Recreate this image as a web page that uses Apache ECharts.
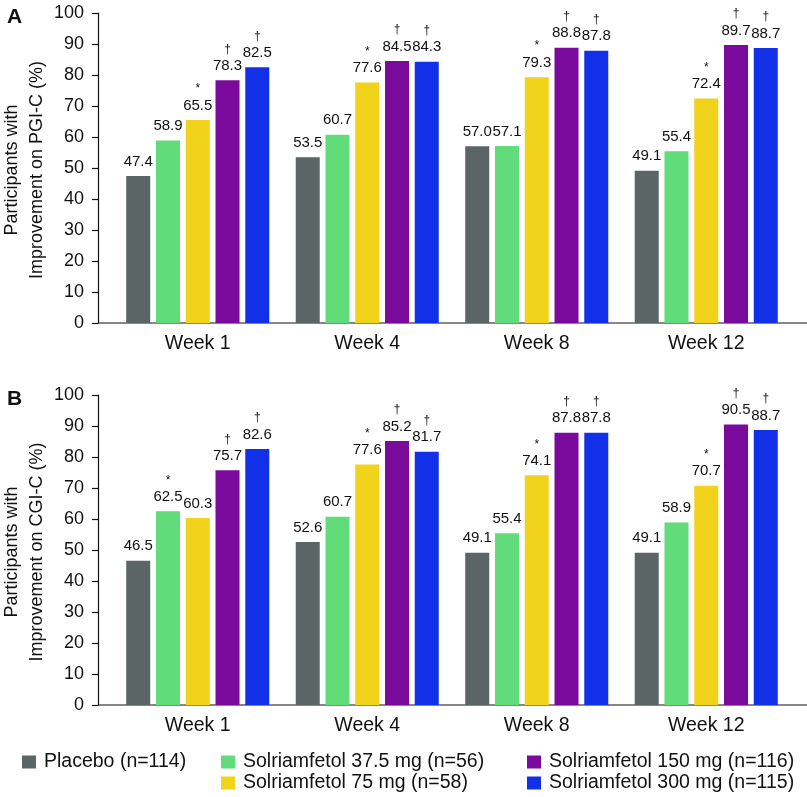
<!DOCTYPE html>
<html>
<head>
<meta charset="utf-8">
<script src="https://cdn.jsdelivr.net/npm/echarts@6/dist/echarts.min.js"></script>
<style>
html,body{margin:0;padding:0;background:#fff;}
#chart{width:807px;height:797px;}
</style>
</head>
<body>
<div id="chart"></div>
<script>
// ---- Data ----
const categories = ['Week 1', 'Week 4', 'Week 8', 'Week 12'];
const seriesNames = [
  'Placebo (n=114)',
  'Solriamfetol 37.5 mg (n=56)',
  'Solriamfetol 75 mg (n=58)',
  'Solriamfetol 150 mg (n=116)',
  'Solriamfetol 300 mg (n=115)'
];
const colors = ['#5b6566', '#62dc7a', '#f2d31c', '#7a0a9c', '#1230e8'];

// Panel A: PGI-C
const pgicPlacebo = [47.4, 53.5, 57.0, 49.1];
const pgic37 = [58.9, 60.7, 57.1, 55.4];
const pgic75 = [65.5, 77.6, 79.3, 72.4];
const pgic150 = [78.3, 84.5, 88.8, 89.7];
const pgic300 = [82.5, 84.3, 87.8, 88.7];
const pgicMarkPlacebo = ['', '', '', ''];
const pgicMark37 = ['', '', '', ''];
const pgicMark75 = ['*', '*', '*', '*'];
const pgicMark150 = ['†', '†', '†', '†'];
const pgicMark300 = ['†', '†', '†', '†'];

// Panel B: CGI-C
const cgicPlacebo = [46.5, 52.6, 49.1, 49.1];
const cgic37 = [62.5, 60.7, 55.4, 58.9];
const cgic75 = [60.3, 77.6, 74.1, 70.7];
const cgic150 = [75.7, 85.2, 87.8, 90.5];
const cgic300 = [82.6, 81.7, 87.8, 88.7];
const cgicMarkPlacebo = ['', '', '', ''];
const cgicMark37 = ['*', '', '', ''];
const cgicMark75 = ['', '*', '*', '*'];
const cgicMark150 = ['†', '†', '†', '†'];
const cgicMark300 = ['†', '†', '†', '†'];

const yTitleA = ['Participants with', 'Improvement on PGI-C (%)'];
const yTitleB = ['Participants with', 'Improvement on CGI-C (%)'];

// ---- Chart ----
const FONT = '"Liberation Sans", Arial, Helvetica, sans-serif';

function makeSeries(values, marks, idx, axisIdx) {
  return {
    type: 'bar',
    name: seriesNames[idx],
    xAxisIndex: axisIdx,
    yAxisIndex: axisIdx,
    data: values,
    barWidth: 24,
    barGap: '24%',
    itemStyle: { color: colors[idx] },
    label: {
      show: true,
      position: 'top',
      distance: 6,
      fontFamily: FONT,
      formatter: function (p) {
        const m = marks[p.dataIndex];
        const v = Number(p.value).toFixed(1);
        return m ? '{m|' + m + '}\n{v|' + v + '}' : '{v|' + v + '}';
      },
      rich: {
        v: { fontSize: 15, lineHeight: 17, color: '#111', fontFamily: FONT },
        m: { fontSize: 12, lineHeight: 16, color: '#111', fontFamily: FONT }
      }
    }
  };
}

const gridA = { left: 113, right: 16, top: 13, height: 310 };
const gridB = { left: 113, right: 16, top: 395, height: 310 };

function xAxisFor(i) {
  return {
    type: 'category',
    gridIndex: i,
    data: categories,
    axisLine: { show: false },
    axisTick: { show: false },
    axisLabel: { color: '#111', fontSize: 19.5, fontFamily: FONT, margin: 11 }
  };
}
function yAxisFor(i) {
  return {
    type: 'value',
    gridIndex: i,
    min: 0, max: 100, interval: 10,
    offset: 15,
    axisLine: { show: true, lineStyle: { color: '#111', width: 1.2 } },
    axisTick: { show: true, length: 6, inside: false, lineStyle: { color: '#111', width: 1.2 } },
    axisLabel: { color: '#111', fontSize: 18, fontFamily: FONT, margin: 14 },
    splitLine: { show: false }
  };
}

function yTitle(lines, cy) {
  return lines.map((t, k) => ({
    type: 'text',
    x: k === 0 ? 12 : 37,
    y: cy,
    rotation: Math.PI / 2,
    style: { text: t, fontSize: 18, fontFamily: FONT, fill: '#111', textAlign: 'center', textVerticalAlign: 'middle' }
  }));
}

const legendCommon = {
  orient: 'vertical',
  padding: 0,
  itemGap: 1,
  itemWidth: 14,
  itemHeight: 13,
  icon: 'rect',
  selectedMode: false,
  textStyle: { fontSize: 19.5, fontFamily: FONT, color: '#111', padding: [0, 0, 0, 3] }
};

const option = {
  animation: false,
  backgroundColor: '#fff',
  grid: [gridA, gridB],
  xAxis: [xAxisFor(0), xAxisFor(1)],
  yAxis: [yAxisFor(0), yAxisFor(1)],
  legend: [
    Object.assign({}, legendCommon, { data: [seriesNames[0]], left: 22, top: 752 }),
    Object.assign({}, legendCommon, { data: [seriesNames[1], seriesNames[2]], left: 221, top: 752 }),
    Object.assign({}, legendCommon, { data: [seriesNames[3], seriesNames[4]], left: 527, top: 752 })
  ],
  graphic: [
    { type: 'text', left: 7, top: 7, style: { text: 'A', fontSize: 21, fontWeight: 'bold', fontFamily: FONT, fill: '#111' } },
    { type: 'text', left: 7, top: 389, style: { text: 'B', fontSize: 21, fontWeight: 'bold', fontFamily: FONT, fill: '#111' } },
    { type: 'line', shape: { x1: 98, y1: 323, x2: 807, y2: 323 }, style: { stroke: '#111', lineWidth: 1.2 } },
    { type: 'line', shape: { x1: 98, y1: 705, x2: 807, y2: 705 }, style: { stroke: '#111', lineWidth: 1.2 } }
  ].concat(yTitle(yTitleA, 170)).concat(yTitle(yTitleB, 552)),
  series: [
    makeSeries(pgicPlacebo, pgicMarkPlacebo, 0, 0),
    makeSeries(pgic37, pgicMark37, 1, 0),
    makeSeries(pgic75, pgicMark75, 2, 0),
    makeSeries(pgic150, pgicMark150, 3, 0),
    makeSeries(pgic300, pgicMark300, 4, 0),
    makeSeries(cgicPlacebo, cgicMarkPlacebo, 0, 1),
    makeSeries(cgic37, cgicMark37, 1, 1),
    makeSeries(cgic75, cgicMark75, 2, 1),
    makeSeries(cgic150, cgicMark150, 3, 1),
    makeSeries(cgic300, cgicMark300, 4, 1)
  ]
};

const chart = echarts.init(document.getElementById('chart'), null, { renderer: 'canvas' });
chart.setOption(option);
</script>
</body>
</html>
